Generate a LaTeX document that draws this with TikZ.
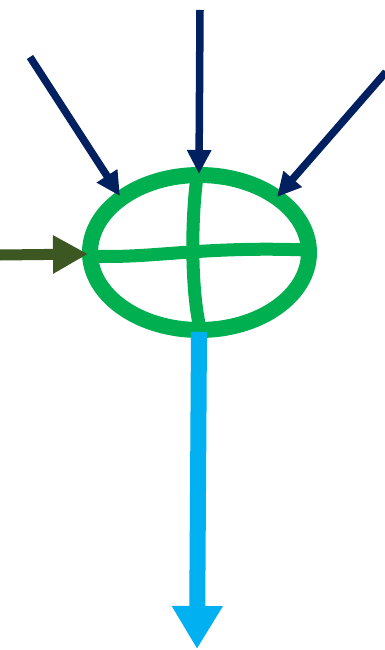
\documentclass[tikz,border=0pt]{standalone}
\usetikzlibrary{arrows.meta,shapes.geometric}
\definecolor{navy}{HTML}{002060}
\definecolor{valvegreen}{HTML}{00B050}
\definecolor{olive}{HTML}{3D5722}
\definecolor{skyblue}{HTML}{00B0F0}
\tikzset{
  inarrow/.style={draw=navy, line width=7.5pt, -{Triangle[length=24pt,width=23pt]}},
  crossline/.style={draw=valvegreen, line width=13pt},
}
\begin{document}
\begin{tikzpicture}[x=1pt,y=-1pt]
\useasboundingbox (0,0) rectangle (385,650);
% valve body
\node[ellipse, draw=valvegreen, line width=16pt, minimum width=219pt, minimum height=155pt, inner sep=0pt] (valve) at (199.5,252.5) {};
\coordinate (vtop) at (197,177);
\coordinate (vbot) at (200,328);
\coordinate (hleft) at (92,256);
\coordinate (hright) at (307,250);
\draw[crossline] (vtop) .. controls (191,220) and (191,290) .. (vbot);
\draw[crossline] (hleft) .. controls (150,259) and (200,246) .. (hright);
% inputs
\coordinate (s1) at (30,57);
\coordinate (t1) at (120,196);
\coordinate (s2) at (200,10);
\coordinate (t2) at (199,174);
\coordinate (s3) at (386,72);
\coordinate (t3) at (277,197);
\draw[inarrow] (s1) -- (t1);
\draw[inarrow] (s2) -- (t2);
\draw[inarrow] (s3) -- (t3);
\coordinate (s4) at (0,255);
\coordinate (t4) at (88,254);
\draw[draw=olive, line width=11pt, -{Triangle[length=35pt,width=36pt]}] (s4) -- (t4);
% output
\coordinate (s5) at (199,332);
\coordinate (t5) at (197,649);
\draw[draw=skyblue, line width=16pt, -{Triangle[length=43pt,width=48pt]}] (s5) -- (t5);
\end{tikzpicture}
\end{document}
